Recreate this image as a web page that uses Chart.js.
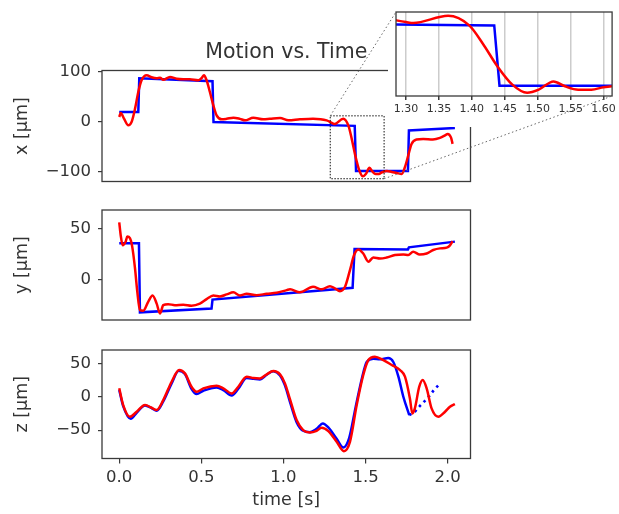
<!DOCTYPE html>
<html lang="en">
<head>
<meta charset="UTF-8" />
<title>Motion vs. Time</title>
<script src="https://cdn.jsdelivr.net/npm/chart.js"></script>
<style>
  html, body { margin: 0; padding: 0; background: #fff; }
  #wrap { position: relative; width: 619px; height: 514px; }
  #wrap canvas { position: absolute; left: 0; top: 0; }
</style>
</head>
<body>
<div id="wrap">
  <canvas id="xChart" width="619" height="514"></canvas>
  <canvas id="yChart" width="619" height="514"></canvas>
  <canvas id="zChart" width="619" height="514"></canvas>
  <canvas id="insetChart" width="619" height="514"></canvas>
</div>
<script>
// ---- data: [time (s), position (µm)] ----
const xTarget = [[0, 18.5], [0.116, 18.5], [0.122, 86], [0.568, 80], [0.574, -1.5], [1.434, -9],
  [1.442, -99], [1.758, -99], [1.764, -18], [2.044, -13.4]];
const xMeasured = [[0, 8.6], [0.009, 16.6], [0.029, 5.3], [0.055, -8], [0.075, -1.4], [0.096, 25],
  [0.116, 58.6], [0.136, 82], [0.167, 92], [0.197, 88], [0.228, 86], [0.248, 87], [0.268, 83],
  [0.309, 88.6], [0.35, 85], [0.39, 84], [0.43, 84], [0.481, 82], [0.502, 86.6], [0.516, 92],
  [0.532, 82], [0.552, 58.6], [0.573, 32], [0.593, 12], [0.624, 4], [0.654, 5], [0.695, 7.4],
  [0.735, 5], [0.766, 2], [0.816, 7.4], [0.877, 4], [0.917, 5], [0.979, 6.6], [1.03, 2],
  [1.10, 4], [1.18, 5.3], [1.263, 2], [1.30, -4], [1.311, -5.5], [1.364, 5.3], [1.396, -9],
  [1.4165, -36], [1.439, -70.5], [1.4615, -97.6], [1.484, -109.7], [1.5015, -105], [1.524, -92.7],
  [1.5415, -100], [1.5615, -105], [1.5815, -105], [1.60, -101.5], [1.63, -99], [1.66, -101],
  [1.69, -103], [1.72, -105], [1.74, -91], [1.76, -68], [1.78, -45], [1.81, -36], [1.851, -35],
  [1.91, -36], [1.953, -33], [1.984, -28], [2.0, -25], [2.02, -32], [2.03, -45]];

const yTarget = [[0, 36], [0.12, 36], [0.126, -31.5], [0.562, -27.8], [0.568, -19], [1.421, -7.5],
  [1.433, 30.4], [1.758, 30], [1.764, 32], [2.044, 37.6]];
const yMeasured = [[0, 56.5], [0.01, 42.5], [0.021, 34], [0.04, 38], [0.049, 42.5], [0.065, 41],
  [0.079, 32.7], [0.096, 11.4], [0.11, -11.5], [0.126, -29.4], [0.146, -30], [0.177, -21],
  [0.203, -15], [0.228, -23], [0.248, -32.7], [0.268, -24.5], [0.298, -23.5], [0.339, -24.5],
  [0.39, -24], [0.44, -25], [0.491, -23], [0.532, -18.6], [0.573, -15], [0.613, -16], [0.654, -14],
  [0.695, -12], [0.735, -15], [0.776, -13.4], [0.837, -14.7], [0.898, -13.4], [0.958, -12.4],
  [1.02, -9.8], [1.04, -9], [1.10, -12], [1.18, -6.5], [1.233, -9], [1.283, -5.9], [1.313, -8],
  [1.344, -10.8], [1.375, -6.5], [1.405, 9.8], [1.43, 24.5], [1.456, 30], [1.486, 26], [1.517, 18],
  [1.547, 22], [1.588, 21], [1.628, 22], [1.679, 24.5], [1.73, 25], [1.76, 24.5], [1.79, 27.7],
  [1.83, 25], [1.872, 26], [1.912, 29.4], [1.953, 31], [1.994, 31.7], [2.014, 34], [2.03, 38]];

const zTarget = [[0, 10], [0.024, -14], [0.07, -33], [0.106, -24], [0.157, -13], [0.197, -17],
  [0.228, -21], [0.268, -7], [0.319, 20], [0.362, 39], [0.40, 34], [0.44, 12], [0.471, 4],
  [0.512, 9], [0.593, 14], [0.634, 10], [0.685, 2], [0.725, 12], [0.776, 28], [0.817, 27],
  [0.857, 26], [0.898, 33], [0.938, 38], [0.979, 32], [1.009, 17], [1.04, -8], [1.08, -38],
  [1.12, -51], [1.161, -53], [1.202, -48], [1.24, -40], [1.273, -46], [1.324, -63], [1.365, -76],
  [1.40, -62], [1.44, -15], [1.48, 30], [1.507, 52], [1.547, 57], [1.588, 56], [1.638, 58],
  [1.669, 52], [1.70, 30], [1.73, 0], [1.766, -27.5]];
const zTargetTail = [[1.766, -27.5], [1.80, -22.5], [1.83, -14], [1.86, -6.5], [1.89, 1.5],
  [1.916, 10], [1.949, 18.5]];
const zMeasured = [[0, 12.6], [0.024, -12.5], [0.065, -30], [0.106, -22.5], [0.157, -12.5],
  [0.197, -16.5], [0.228, -20], [0.268, -5], [0.319, 22.5], [0.365, 40], [0.40, 35], [0.44, 15],
  [0.471, 7.5], [0.512, 12.6], [0.593, 16.5], [0.634, 12.6], [0.685, 5], [0.725, 15], [0.776, 30],
  [0.817, 28], [0.857, 27.5], [0.898, 33.5], [0.938, 38.5], [0.979, 33.5], [1.009, 20], [1.04, -4],
  [1.08, -35], [1.12, -50], [1.161, -53.5], [1.202, -51], [1.233, -46.5], [1.273, -51.5],
  [1.324, -67.5], [1.368, -81.5], [1.405, -67.5], [1.446, -12.5], [1.486, 32.5], [1.517, 55],
  [1.557, 60], [1.608, 55], [1.659, 47.5], [1.71, 40], [1.74, 30], [1.77, -2.5], [1.785, -25],
  [1.80, -17.5], [1.827, 15], [1.848, 25], [1.872, 12.6], [1.902, -17.5], [1.943, -30],
  [1.984, -22.5], [2.014, -15], [2.044, -11]];

// ticks and limits
const timeTicks = [0, 0.5, 1.0, 1.5, 2.0];
const insetTicks = [1.30, 1.35, 1.40, 1.45, 1.50, 1.55, 1.60];
const xTicks = [-100, 0, 100];
const yTicks = [0, 50];
const zTicks = [-50, 0, 50];
const timeRange = [-0.105, 2.139];
const insetTimeRange = [1.2849, 1.6129];
const insetPosRange = [-114.5, 11];

const W = 619, H = 514;
const INK = "#333333";
const SPINE = "#3a3a3a";
Chart.defaults.font.family = "'DejaVu Sans', sans-serif";
Chart.defaults.color = INK;

const pts = arr => arr.map(p => ({ x: p[0], y: p[1] }));
const fmtNum = v => (v < 0 ? "\u2212" + Math.abs(v) : String(v));

const framePlugin = {
    id: "frame",
    afterDatasetsDraw(chart) {
        const a = chart.chartArea;
        const ctx = chart.ctx;
        ctx.save();
        ctx.strokeStyle = SPINE;
        ctx.lineWidth = 1.3;
        ctx.strokeRect(a.left, a.top, a.right - a.left, a.bottom - a.top);
        ctx.restore();
    },
};

function lineSet(data, color, smooth, dash) {
    return {
        data: pts(data),
        borderColor: color,
        borderWidth: dash ? 2.6 : 2.5,
        pointRadius: 0,
        fill: false,
        tension: smooth ? 0.4 : 0,
        cubicInterpolationMode: smooth ? "monotone" : "default",
        borderDash: dash || [],
    };
}

// area = chart area in page pixels
function panelConfig(area, datasets, yRange, ticks, yTitle, opts) {
    const showTime = !!opts.showTime;
    return {
        type: "line",
        data: { datasets: datasets },
        options: {
            responsive: false,
            animation: false,
            events: [],
            layout: {
                padding: {
                    left: 0,
                    right: W - area.right,
                    top: opts.title ? 40 : area.top,
                    bottom: showTime ? 0 : H - area.bottom,
                },
            },
            plugins: {
                legend: { display: false },
                tooltip: { enabled: false },
                title: {
                    display: !!opts.title,
                    text: opts.title || "",
                    fullSize: false,
                    font: { size: 20.5, weight: "normal" },
                    color: INK,
                    padding: { top: 0, bottom: area.top - 40 - 24.6 },
                },
            },
            scales: {
                x: {
                    type: "linear",
                    min: timeRange[0],
                    max: timeRange[1],
                    display: showTime,
                    afterFit: (s) => { if (showTime) s.height = H - area.bottom; },
                    afterBuildTicks: (s) => { s.ticks = timeTicks.map((v) => ({ value: v })); },
                    ticks: {
                        callback: (v) => v.toFixed(1),
                        font: { size: 16.5 },
                        color: INK,
                        padding: 4.5,
                        maxRotation: 0,
                        autoSkip: false,
                    },
                    grid: { drawOnChartArea: false, tickLength: 5, color: SPINE, lineWidth: 1.2 },
                    border: { display: false },
                    title: {
                        display: true,
                        text: "time [s]",
                        font: { size: 17.5 },
                        color: INK,
                        padding: { top: 0, bottom: 3 },
                    },
                },
                y: {
                    type: "linear",
                    min: yRange[0],
                    max: yRange[1],
                    afterFit: (s) => { s.width = area.left; },
                    afterBuildTicks: (s) => { s.ticks = ticks.map((v) => ({ value: v })); },
                    ticks: { callback: fmtNum, font: { size: 16.5 }, color: INK, padding: 7 },
                    grid: { drawOnChartArea: false, tickLength: 4, color: SPINE, lineWidth: 1.2 },
                    border: { display: false },
                    title: {
                        display: true,
                        text: yTitle,
                        font: { size: 17.5 },
                        color: INK,
                        padding: { top: 12, bottom: 0 },
                    },
                },
            },
        },
        plugins: opts.plugins ? [framePlugin].concat(opts.plugins) : [framePlugin],
    };
}

// dotted box in the x panel marking the zoomed region
const zoomBoxPlugin = {
    id: "zoomBox",
    afterDatasetsDraw(chart) {
        const xs = chart.scales.x, ys = chart.scales.y;
        const l = xs.getPixelForValue(insetTimeRange[0]);
        const r = xs.getPixelForValue(insetTimeRange[1]);
        const t = ys.getPixelForValue(insetPosRange[1]);
        const b = ys.getPixelForValue(insetPosRange[0]);
        const ctx = chart.ctx;
        ctx.save();
        ctx.strokeStyle = "#111";
        ctx.lineWidth = 1;
        ctx.setLineDash([1.5, 1.5]);
        ctx.strokeRect(l, t, r - l, b - t);
        ctx.restore();
    },
};

const xChart = new Chart(document.getElementById("xChart"), panelConfig(
    { left: 102, right: 470.5, top: 70.5, bottom: 181.5 },
    [lineSet(xMeasured, "#ff0000", true), lineSet(xTarget, "#0000ff", false)],
    [-120, 101.5], xTicks, "x [\u00b5m]",
    { title: "Motion vs. Time", plugins: [zoomBoxPlugin] }
));

new Chart(document.getElementById("yChart"), panelConfig(
    { left: 102, right: 470.5, top: 210, bottom: 320 },
    [lineSet(yMeasured, "#ff0000", true), lineSet(yTarget, "#0000ff", false)],
    [-39, 68.5], yTicks, "y [\u00b5m]", {}
));

new Chart(document.getElementById("zChart"), panelConfig(
    { left: 102, right: 470.5, top: 350, bottom: 458.5 },
    [lineSet(zMeasured, "#ff0000", true), lineSet(zTarget, "#0000ff", true),
     lineSet(zTargetTail, "#0000ff", false, [2.5, 4])],
    [-92.5, 70], zTicks, "z [\u00b5m]", { showTime: true }
));

// ---- inset (zoom of the x panel) ----
const insetArea = { left: 396, right: 615, top: 12, bottom: 96 };
const insetPlugin = {
    id: "insetDecor",
    beforeDraw(chart) {
        const ctx = chart.ctx;
        ctx.save();
        ctx.fillStyle = "#ffffff";
        ctx.fillRect(388, 0, W - 388, 127);
        ctx.restore();
    },
    afterDraw(chart) {
        const a = chart.chartArea;
        const xs = xChart.scales.x, ys = xChart.scales.y;
        const l = xs.getPixelForValue(insetTimeRange[0]);
        const r = xs.getPixelForValue(insetTimeRange[1]);
        const t = ys.getPixelForValue(insetPosRange[1]);
        const b = ys.getPixelForValue(insetPosRange[0]);
        const ctx = chart.ctx;
        ctx.save();
        ctx.strokeStyle = "#666";
        ctx.lineWidth = 1;
        ctx.setLineDash([1.5, 2.5]);
        ctx.beginPath();
        ctx.moveTo(l, t);
        ctx.lineTo(a.left, a.top);
        ctx.moveTo(r, b);
        ctx.lineTo(a.right, a.bottom);
        ctx.stroke();
        ctx.restore();
    },
};

new Chart(document.getElementById("insetChart"), {
    type: "line",
    data: {
        datasets: [lineSet(xMeasured, "#ff0000", true), lineSet(xTarget, "#0000ff", false)],
    },
    options: {
        responsive: false,
        animation: false,
        events: [],
        layout: {
            padding: {
                left: insetArea.left,
                right: W - insetArea.right,
                top: insetArea.top,
                bottom: H - insetArea.bottom - 30,
            },
        },
        plugins: { legend: { display: false }, tooltip: { enabled: false } },
        scales: {
            x: {
                type: "linear",
                min: insetTimeRange[0],
                max: insetTimeRange[1],
                afterFit: (s) => { s.height = 30; },
                afterBuildTicks: (s) => { s.ticks = insetTicks.map((v) => ({ value: v })); },
                ticks: {
                    callback: (v) => v.toFixed(2),
                    font: { size: 11 },
                    color: INK,
                    padding: 3,
                    maxRotation: 0,
                    autoSkip: false,
                },
                grid: { color: "#cccccc", lineWidth: 1.5, tickColor: SPINE, tickLength: 4 },
                border: { display: false },
            },
            y: {
                type: "linear",
                min: insetPosRange[0],
                max: insetPosRange[1],
                display: false,
            },
        },
    },
    plugins: [framePlugin, insetPlugin],
});
</script>
</body>
</html>
